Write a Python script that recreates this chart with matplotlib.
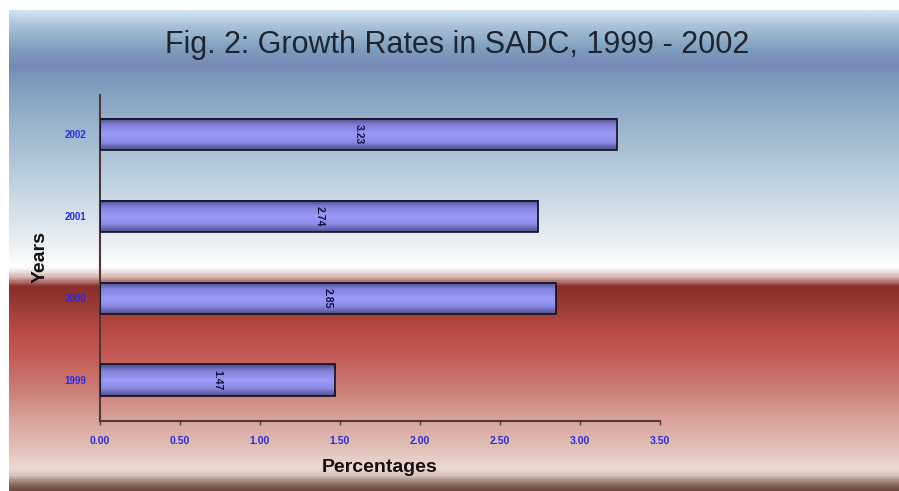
import numpy as np
import matplotlib.pyplot as plt
from matplotlib.colors import LinearSegmentedColormap

# data
years = ['1999', '2000', '2001', '2002']
growth = [1.47, 2.85, 2.74, 3.23]
value_labels = ['1.47', '2.85', '2.74', '3.23']
xticks = [0.0, 0.5, 1.0, 1.5, 2.0, 2.5, 3.0, 3.5]

plt.rcParams['font.family'] = ['Liberation Sans', 'DejaVu Sans']

fig = plt.figure(figsize=(8.99, 4.91), dpi=100, facecolor='white')

# background gradient (top = 0 in gradient coords)
bg_stops = [
    (0.00, '#d2e2ee'), (0.03, '#a8c2d8'), (0.08, '#7e9cbc'),
    (0.115, '#7888b8'), (0.14, '#7c98ba'), (0.20, '#8eaac6'),
    (0.35, '#bcd0de'), (0.46, '#e2e9ef'), (0.52, '#f8f9fa'),
    (0.535, '#ffffff'), (0.555, '#d8b8b4'), (0.575, '#8a2e2a'),
    (0.61, '#983a34'), (0.67, '#bb4c47'), (0.72, '#c45b56'),
    (0.79, '#cc7c76'), (0.85, '#d8a09a'), (0.92, '#e2c4bc'),
    (0.955, '#ecdad2'), (0.97, '#d8c6be'), (0.985, '#9a7a70'),
    (1.00, '#6e4a40'),
]
bg_cmap = LinearSegmentedColormap.from_list('bg', bg_stops)
bg = fig.add_axes([9 / 899, 0, 890 / 899, 481 / 491], zorder=0)
grad = np.linspace(0, 1, 600).reshape(-1, 1)
bg.imshow(grad, aspect='auto', cmap=bg_cmap, extent=(0, 1, 1, 0))
bg.set_axis_off()

# main axes
ax = fig.add_axes([100 / 899, 70 / 491, 560 / 899, 326 / 491], zorder=1)
ax.patch.set_alpha(0)

ypos = np.arange(len(years))
bar_h = 0.38
bar_cmap = LinearSegmentedColormap.from_list('bar', [
    (0.0, '#4a4a86'), (0.2, '#8080d8'), (0.5, '#9a9afa'),
    (0.75, '#8c8ce6'), (1.0, '#50508e')])
bar_grad = np.linspace(0, 1, 50).reshape(-1, 1)
for y, v, lab in zip(ypos, growth, value_labels):
    ax.imshow(bar_grad, aspect='auto', cmap=bar_cmap,
              extent=(0, v, y - bar_h / 2, y + bar_h / 2), zorder=2)
    ax.text(v / 2, y, lab, rotation=270, ha='center', va='center',
            fontsize=7.5, color='#101040', fontweight='bold', zorder=4)
ax.barh(ypos, growth, height=bar_h, fill=False, edgecolor='#101020',
        linewidth=1.2, zorder=3)

ax.set_xlim(0, 3.5)
ax.set_ylim(-0.5, 3.48)
ax.set_xticks(xticks)
ax.set_xticklabels(['%.2f' % t for t in xticks])
ax.set_yticks(ypos)
ax.set_yticklabels(years)
ax.tick_params(axis='x', length=3, width=1, color='#503838', pad=8,
               labelsize=7.5, labelcolor='#2a2ae0')
ax.tick_params(axis='y', length=0, pad=10, labelsize=7, labelcolor='#2a2ae0')
for t in ax.get_xticklabels() + ax.get_yticklabels():
    t.set_fontweight('bold')
for s in ['top', 'right']:
    ax.spines[s].set_visible(False)
for s in ['left', 'bottom']:
    ax.spines[s].set_color('#503838')
    ax.spines[s].set_linewidth(1.5)

fig.text(40 / 899, 1 - 257 / 491, 'Years', rotation=90, ha='center', va='center',
         fontsize=14, fontweight='bold', color='#111111')
fig.text(380 / 899, 1 - 467 / 491, 'Percentages', ha='center', va='center',
         fontsize=14, fontweight='bold', color='#111111')
fig.text(457 / 899, 1 - 45 / 491, 'Fig. 2: Growth Rates in SADC, 1999 - 2002',
         ha='center', va='center', fontsize=22, color='#1e2430')

fig.savefig('out.png', dpi=100)
